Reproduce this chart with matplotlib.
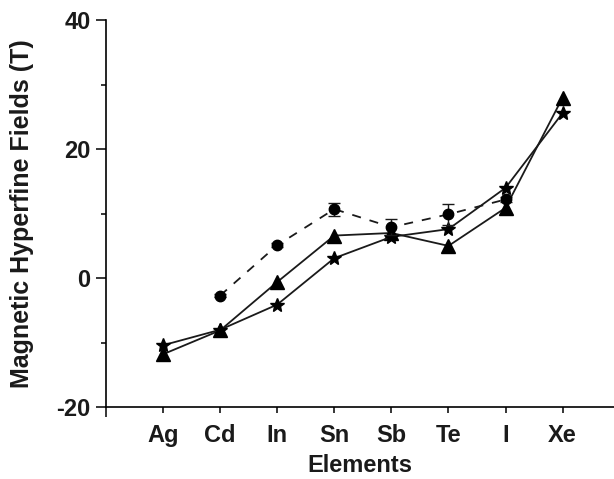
import matplotlib
matplotlib.use('Agg')
import matplotlib.pyplot as plt

plt.rcParams['font.family'] = ['Liberation Sans', 'DejaVu Sans']
plt.rcParams['font.weight'] = 'bold'
plt.rcParams['axes.unicode_minus'] = False

elements = ['Ag', 'Cd', 'In', 'Sn', 'Sb', 'Te', 'I', 'Xe']
pos = [1, 2, 3, 4, 5, 6, 7, 8]

triangle = [-11.8, -8.1, -0.6, 6.6, 7.0, 5.0, 10.9, 28.0]
star = [-10.4, -8.0, -4.1, 3.1, 6.4, 7.6, 14.0, 25.6]

circ_pos = [2, 3, 4, 5, 6, 7]
circle = [-2.7, 5.1, 10.7, 7.9, 9.9, 12.2]
circle_err = [0.3, 0.3, 1.0, 1.2, 1.6, 0.4]

fig = plt.figure(figsize=(6.14, 4.79), dpi=100)
ax = fig.add_axes([0.1726, 0.150, 0.8274, 0.808])

ax.plot(pos, triangle, color='#1a1a1a', lw=1.3, marker='^', ms=9.5,
        mfc='black', mec='black')
ax.plot(pos, star, color='#1a1a1a', lw=1.3, marker='*', ms=10.5,
        mfc='black', mec='black')
ax.errorbar(circ_pos, circle, yerr=circle_err, color='#1a1a1a', lw=1.3,
            ls=(0, (5, 5)), marker='o', ms=7.5, mfc='black', mec='black',
            ecolor='#1a1a1a', elinewidth=1.0, capsize=4, capthick=1.0)

ax.set_xlim(0, 8.9)
ax.set_ylim(-20, 40)

ax.spines['top'].set_visible(False)
ax.spines['right'].set_visible(False)
for s in ['left', 'bottom']:
    ax.spines[s].set_linewidth(1.2)

ax.set_xticks([0])
ax.set_xticklabels([''])
ax.set_xticks(pos, minor=True)
ax.set_xticklabels(elements, minor=True)
ax.tick_params(axis='x', which='major', direction='out', length=7, width=1.1)
ax.tick_params(axis='x', which='minor', direction='out', length=4, width=1.1,
               labelsize=17, pad=8, labelcolor='#1a1a1a')

ax.set_yticks([-20, 0, 20, 40])
ax.set_yticks([-10, 10, 30], minor=True)
ax.tick_params(axis='y', which='major', direction='out', length=7, width=1.1,
               labelsize=17, pad=4, labelcolor='#1a1a1a')
ax.tick_params(axis='y', which='minor', direction='out', length=3.5, width=1.1)

ax.set_xlabel('Elements', fontsize=17, fontweight='bold', labelpad=5,
              color='#1a1a1a')
ax.set_ylabel('Magnetic Hyperfine Fields (T)', fontsize=18, fontweight='bold',
              labelpad=16, color='#1a1a1a')

fig.savefig('out.png', dpi=100)
